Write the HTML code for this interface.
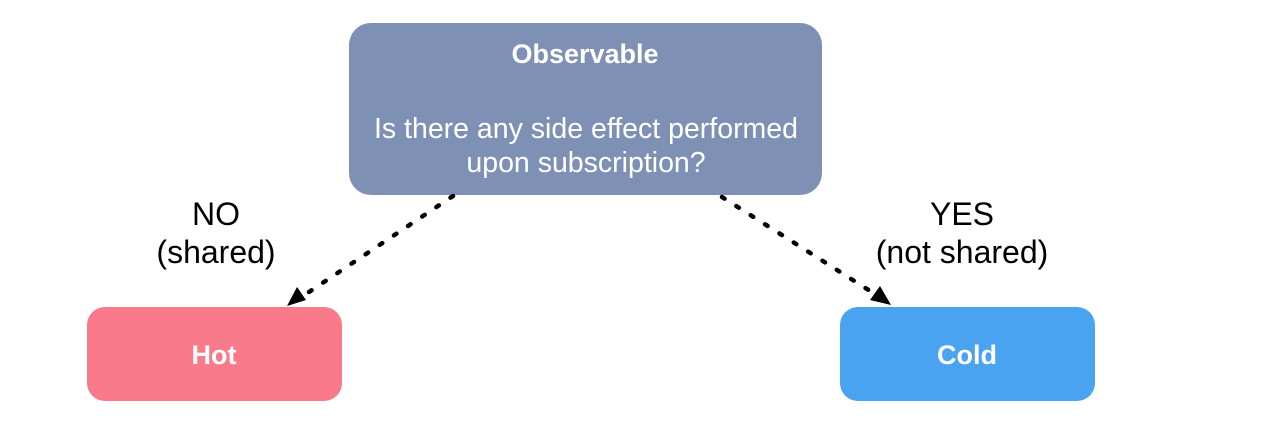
<!DOCTYPE html>
<html><head><style>
html,body{margin:0;padding:0;background:#fff;width:1264px;height:424px;overflow:hidden}
svg{display:block}
text{font-family:"Liberation Sans",Arial,sans-serif}
</style></head><body>
<svg width="1264" height="424" viewBox="0 0 1264 424">
<rect x="349" y="23" width="473" height="172" rx="22" fill="#7f90b5"/>
<text x="585" y="63" text-anchor="middle" font-size="27" font-weight="bold" fill="#fff">Observable</text>
<text x="586" y="138" text-anchor="middle" font-size="28.5" fill="#fff">Is there any side effect performed</text>
<text x="586" y="172" text-anchor="middle" font-size="28.5" fill="#fff">upon subscription?</text>
<rect x="87" y="307" width="255" height="94" rx="18" fill="#f87a8b"/>
<text x="214" y="364" text-anchor="middle" font-size="27" font-weight="bold" fill="#fff">Hot</text>
<rect x="840" y="307" width="255" height="94" rx="18" fill="#4aa3f0"/>
<text x="967" y="364" text-anchor="middle" font-size="27" font-weight="bold" fill="#fff">Cold</text>
<line x1="453" y1="196" x2="300" y2="298" stroke="#000" stroke-width="4.5" stroke-dasharray="3,14" stroke-linecap="round"/>
<path d="M287,306 L297,287 L306,300 z" fill="#000"/>
<line x1="722" y1="197" x2="878" y2="296" stroke="#000" stroke-width="4.5" stroke-dasharray="3,14" stroke-linecap="round"/>
<path d="M891,305 L870,300 L880,286 z" fill="#000"/>
<text x="216" y="225" text-anchor="middle" font-size="32" fill="#000">NO</text>
<text x="216" y="263" text-anchor="middle" font-size="32" fill="#000">(shared)</text>
<text x="962" y="225" text-anchor="middle" font-size="32" fill="#000">YES</text>
<text x="962" y="263" text-anchor="middle" font-size="32" fill="#000">(not shared)</text>
</svg>
</body></html>
